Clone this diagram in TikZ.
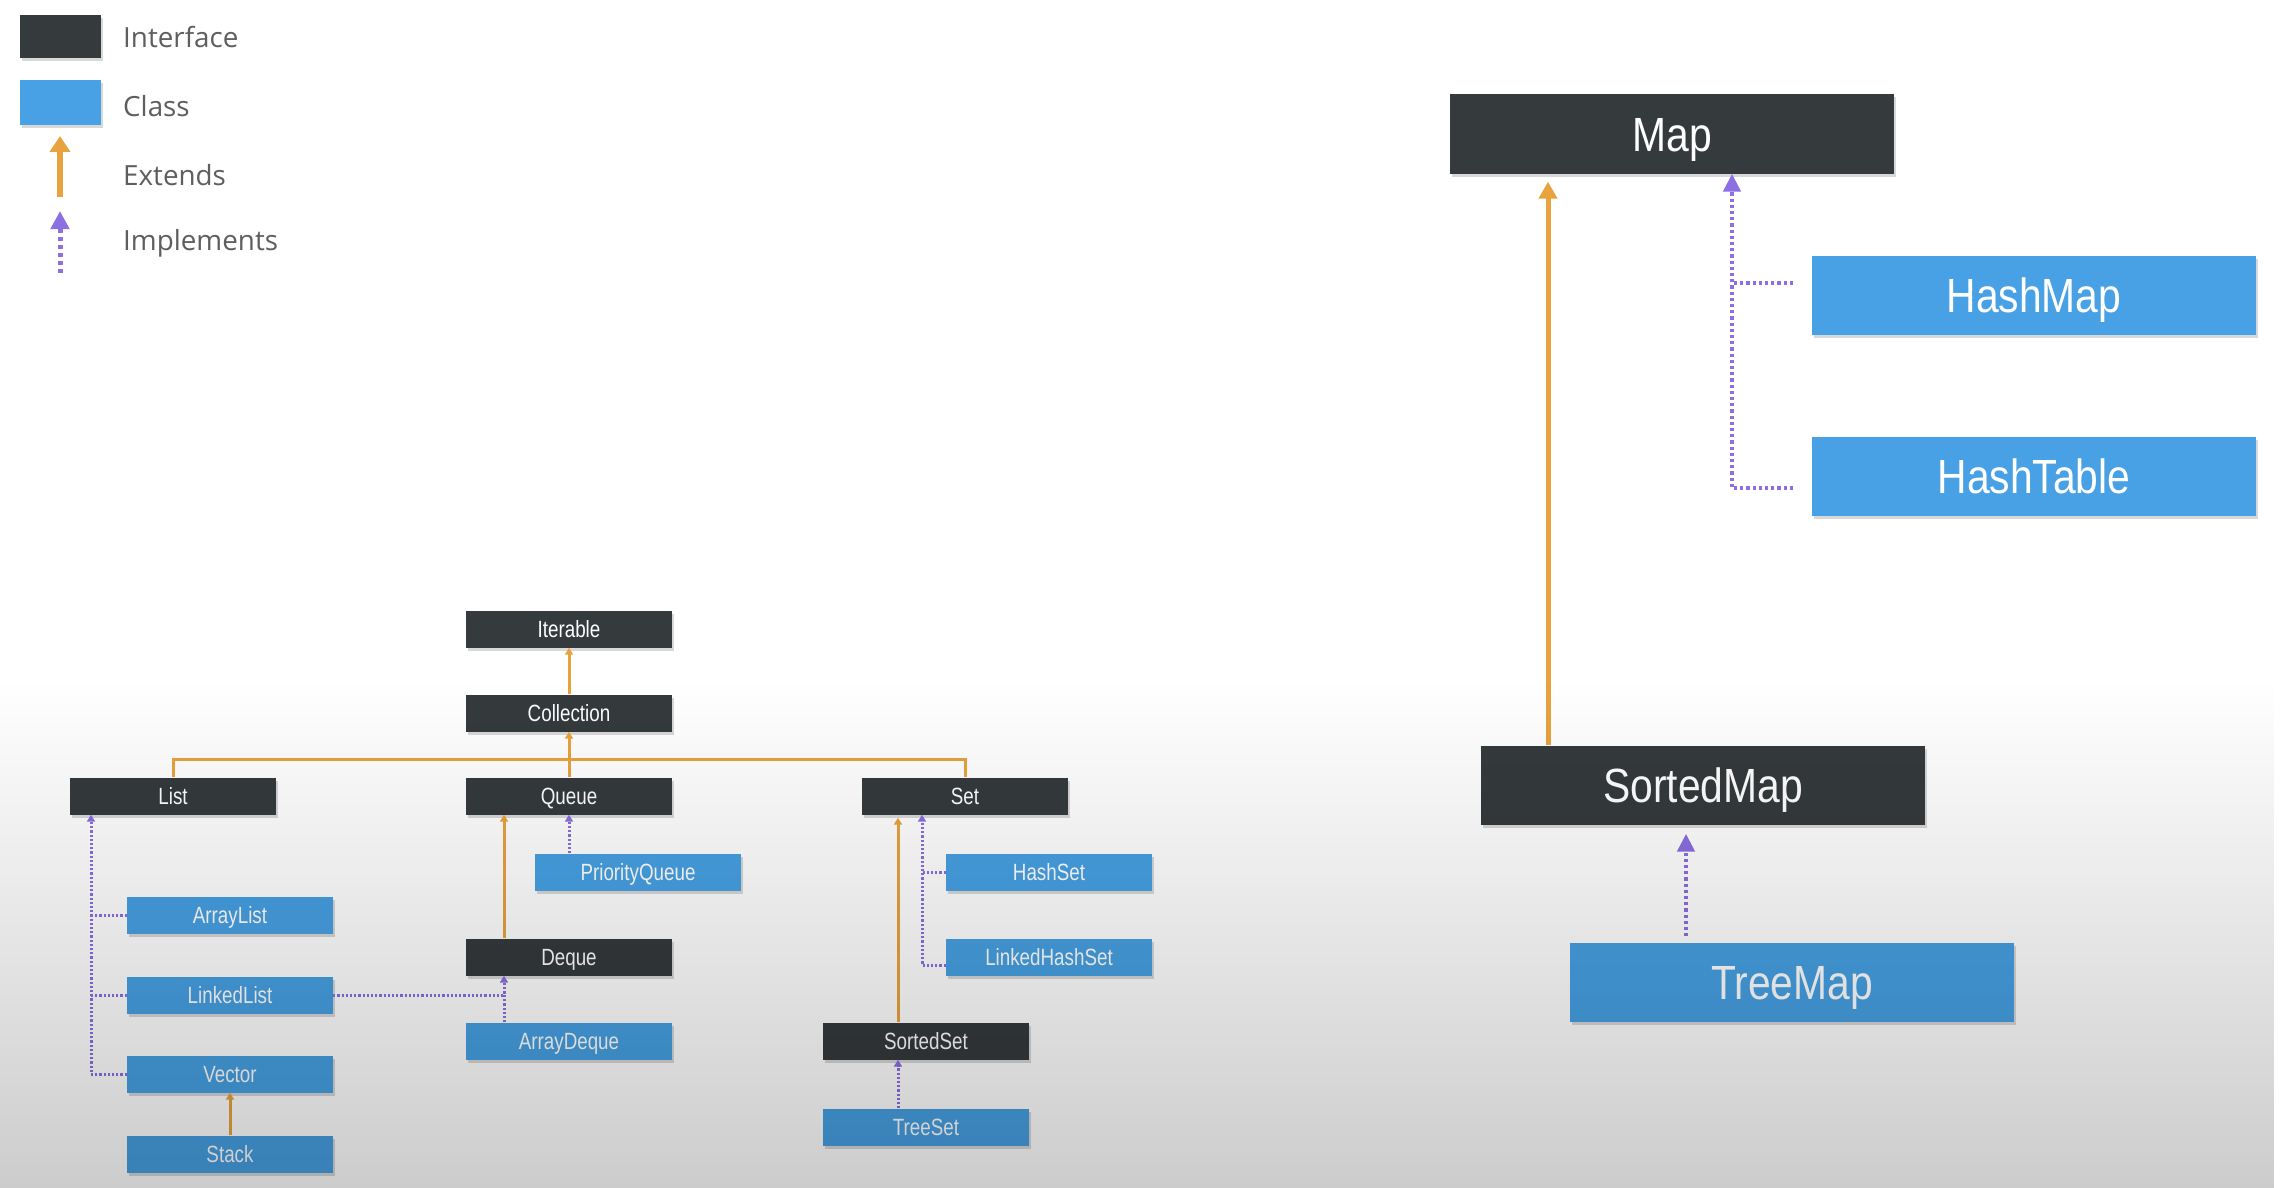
\documentclass[tikz,border=0pt]{standalone}
\usepackage{fontspec}
\newfontfamily\boxfont[FakeStretch=0.85]{Liberation Sans}
\newfontfamily\smallboxfont[FakeStretch=0.8]{Liberation Sans}
\newfontfamily\legfont{Open Sans}
\usetikzlibrary{arrows.meta,shadows,fadings}
\definecolor{ifc}{HTML}{353A3D}
\definecolor{cls}{HTML}{47A1E4}
\definecolor{extc}{HTML}{E8A33E}
\definecolor{implc}{HTML}{8C6FE2}
\definecolor{legtxt}{HTML}{5E5E5E}
\tikzfading[name=fadedown, top color=transparent!100, bottom color=transparent!0]
\tikzset{
  boxbase/.style={rectangle, inner sep=0pt, text=white,
    drop shadow={shadow xshift=1.5pt, shadow yshift=-3pt, opacity=0.3}},
  smallbox/.style={boxbase, minimum width=206pt, minimum height=37pt,
    text height=17pt, text depth=0pt,
    font=\smallboxfont\fontsize{23.5pt}{27pt}\selectfont},
  bigbox/.style={boxbase, minimum width=444pt, minimum height=79pt,
    text height=35pt, text depth=0pt,
    font=\boxfont\fontsize{48pt}{54pt}\selectfont},
  ifsmall/.style={smallbox, fill=ifc},
  clsmall/.style={smallbox, fill=cls},
  ifbig/.style={bigbox, fill=ifc},
  clbig/.style={bigbox, fill=cls},
  extsmall/.style={draw=extc, line width=3pt, -{Triangle[width=8pt,length=7pt]}},
  extline/.style={draw=extc, line width=3pt},
  implsmall/.style={draw=implc, line width=3pt, dash pattern=on 2.2pt off 2pt, -{Triangle[width=8pt,length=7pt]}},
  implline/.style={draw=implc, line width=3pt, dash pattern=on 2.2pt off 2pt},
  extbig/.style={draw=extc, line width=5pt, -{Triangle[width=18pt,length=17pt]}},
  implbig/.style={draw=implc, line width=4.5pt, dash pattern=on 3.2pt off 3pt, -{Triangle[width=17pt,length=18pt]}},
  implbigline/.style={draw=implc, line width=4.5pt, dash pattern=on 3.2pt off 3pt},
  legtext/.style={anchor=west, text=legtxt, font=\legfont\fontsize{27.8pt}{32pt}\selectfont, inner sep=0pt},
}
\begin{document}
\begin{tikzpicture}[x=1pt,y=-1pt]
\useasboundingbox (0,0) rectangle (2286,1188);
\fill[white] (0,0) rectangle (2286,1188);

% ---------- legend ----------
\node[fill=ifc, minimum width=81pt, minimum height=43pt, inner sep=0pt,
  drop shadow={shadow xshift=1.5pt, shadow yshift=-3pt, opacity=0.3}] (lgif) at (60.5,36.5) {};
\node[fill=cls, minimum width=81pt, minimum height=45pt, inner sep=0pt,
  drop shadow={shadow xshift=1.5pt, shadow yshift=-3pt, opacity=0.3}] (lgcl) at (60.5,102.5) {};
\node[legtext] (tif) at (123,37) {Interface};
\node[legtext] (tcl) at (123,106) {Class};
\node[legtext] (tex) at (123,175) {Extends};
\node[legtext] (tim) at (123,243) {Implements};
\coordinate (exa) at (60,197);
\coordinate (exb) at (60,136);
\coordinate (ima) at (60,273);
\coordinate (imb) at (60,211);
\draw[draw=extc, line width=6pt, -{Triangle[width=20pt,length=16pt]}] (exa) -- (exb);
\draw[draw=implc, line width=5pt, dash pattern=on 4pt off 4pt, -{Triangle[width=18pt,length=18pt]}] (ima) -- (imb);

% ---------- collection hierarchy ----------
\node[ifsmall] (iterable) at (569,629) {Iterable};
\node[ifsmall] (collection) at (569,713) {Collection};
\node[ifsmall] (list) at (173,796) {List};
\node[ifsmall] (queue) at (569,796) {Queue};
\node[ifsmall] (set) at (965,796) {Set};
\node[clsmall] (pqueue) at (638,872) {PriorityQueue};
\node[clsmall] (arraylist) at (230,915) {ArrayList};
\node[clsmall] (linkedlist) at (230,995) {LinkedList};
\node[clsmall] (vector) at (230,1074) {Vector};
\node[clsmall] (stack) at (230,1154) {Stack};
\node[ifsmall] (deque) at (569,957) {Deque};
\node[clsmall] (arraydeque) at (569,1041) {ArrayDeque};
\node[clsmall] (hashset) at (1049,872) {HashSet};
\node[clsmall] (lhashset) at (1049,957) {LinkedHashSet};
\node[ifsmall] (sortedset) at (926,1041) {SortedSet};
\node[clsmall] (treeset) at (926,1127) {TreeSet};

\coordinate (bar) at (569,759);
\coordinate (listx) at (91,0);
\coordinate (dqx) at (504,0);
\coordinate (ssx) at (898,0);
\coordinate (hsx) at (922,0);
\coordinate (lhsy) at (0,965);

\draw[extsmall] (collection.north) -- (iterable.south);
\draw[extline] (list.north) |- (bar) -| (set.north);
\draw[extsmall] (queue.north) -- (collection.south);
\draw[extsmall] (dqx |- deque.north) -- (dqx |- queue.south);
\draw[implsmall] (queue.south |- pqueue.north) -- (queue.south);
\draw[implsmall] (vector.west) -| (listx |- list.south);
\draw[implline] (arraylist.west) -- (arraylist.west -| listx);
\draw[implline] (linkedlist.west) -- (linkedlist.west -| listx);
\draw[implsmall] (linkedlist.east) -| (dqx |- deque.south);
\draw[implline] (dqx |- arraydeque.north) -- (dqx |- linkedlist.east);
\draw[extsmall] (vector.south |- stack.north) -- (vector.south);
\draw[extsmall, shorten >=3pt] (ssx |- sortedset.north) -- (ssx |- set.south);
\draw[implsmall] (lhashset.west |- lhsy) -| (hsx |- set.south);
\draw[implline] (hashset.west) -- (hashset.west -| hsx);
\draw[implsmall] (ssx |- treeset.north) -- (ssx |- sortedset.south);

% ---------- map hierarchy ----------
\node[ifbig] (map) at (1672,134) {Map};
\node[clbig] (hashmap) at (2034,295) {HashMap};
\node[clbig] (hashtable) at (2034,476) {HashTable};
\node[ifbig] (sortedmap) at (1703,785) {SortedMap};
\node[clbig] (treemap) at (1792,982) {TreeMap};

\coordinate (smx) at (1548,0);
\coordinate (mx) at (1732,0);
\coordinate (tmx) at (1686,0);
\coordinate (hme) at (1793,283);
\coordinate (hte) at (1793,488);
\draw[extbig, shorten >=8pt] (smx |- sortedmap.north) -- (smx |- map.south);
\draw[implbig] (hte) -| (mx |- map.south);
\draw[implbigline] (hme) -- (hme -| mx);
\draw[implbig, shorten <=6pt, shorten >=9pt] (tmx |- treemap.north) -- (tmx |- sortedmap.south);

% ---------- background shading overlay ----------
\fill[black, fill opacity=0.2, path fading=fadedown] (0,680) rectangle (2286,1188);
\end{tikzpicture}
\end{document}
